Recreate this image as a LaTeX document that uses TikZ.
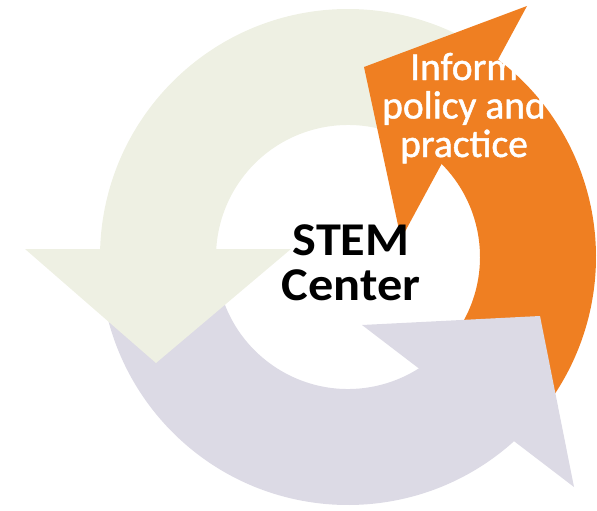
\documentclass[tikz,border=0pt]{standalone}
\usepackage{fontspec}
\setmainfont{Carlito}
\usetikzlibrary{calc}
\definecolor{cgreen}{HTML}{EEF0E3}
\definecolor{clav}{HTML}{DCDAE5}
\definecolor{corange}{HTML}{EF7F22}
\tikzset{
  greenpart/.style={fill=cgreen},
  lavpart/.style={fill=clav},
  orangepart/.style={fill=corange},
  centertext/.style={font=\fontsize{47}{45}\selectfont\bfseries, text=black, align=center, inner sep=0pt, transform shape, xscale=1.07},
  labeltext/.style={font=\fontsize{39.5}{38.5}\selectfont\addfontfeature{FakeBold=1.2}, text=white, align=center, inner sep=0pt}
}
\begin{document}
\begin{tikzpicture}[x=1pt,y=-1pt]
\useasboundingbox (0,0) rectangle (597,511);
\coordinate (C) at (348,257);
% bodies
\path[greenpart] ($(C)+(180:248)$) arc[start angle=180,end angle=300,radius=248]
  -- ($(C)+(300:132)$) arc[start angle=300,end angle=180,radius=132] -- cycle;
\path[lavpart] ($(C)+(46:248)$) arc[start angle=46,end angle=170,radius=248]
  -- ($(C)+(170:132)$) arc[start angle=170,end angle=54,radius=132] -- cycle;
\path[orangepart] ($(C)+(398:248)$) arc[start angle=398,end angle=305,radius=248]
  -- ($(C)+(312:132)$) arc[start angle=312,end angle=398,radius=132] -- cycle;
% heads
\coordinate (gl) at (25,249); \coordinate (gr) at (291,249); \coordinate (gt) at (156,363);
\coordinate (li) at (362,325); \coordinate (lt) at (540,316); \coordinate (lo) at (574,487);
\coordinate (oo) at (527,6); \coordinate (oi) at (401,239); \coordinate (ot) at (364,67);
\path[greenpart] (gl) -- (gr) -- (gt) -- cycle;
\path[lavpart] (li) -- (lt) -- (lo) -- cycle;
\path[orangepart] (oo) -- (ot) -- (oi) -- cycle;
% texts
\node[labeltext, anchor=base] (info) at (464,157) {Inform\\policy and\\practice};
\node[centertext, anchor=base] (stem) at (351,300) {STEM\\Center};
\end{tikzpicture}
\end{document}
